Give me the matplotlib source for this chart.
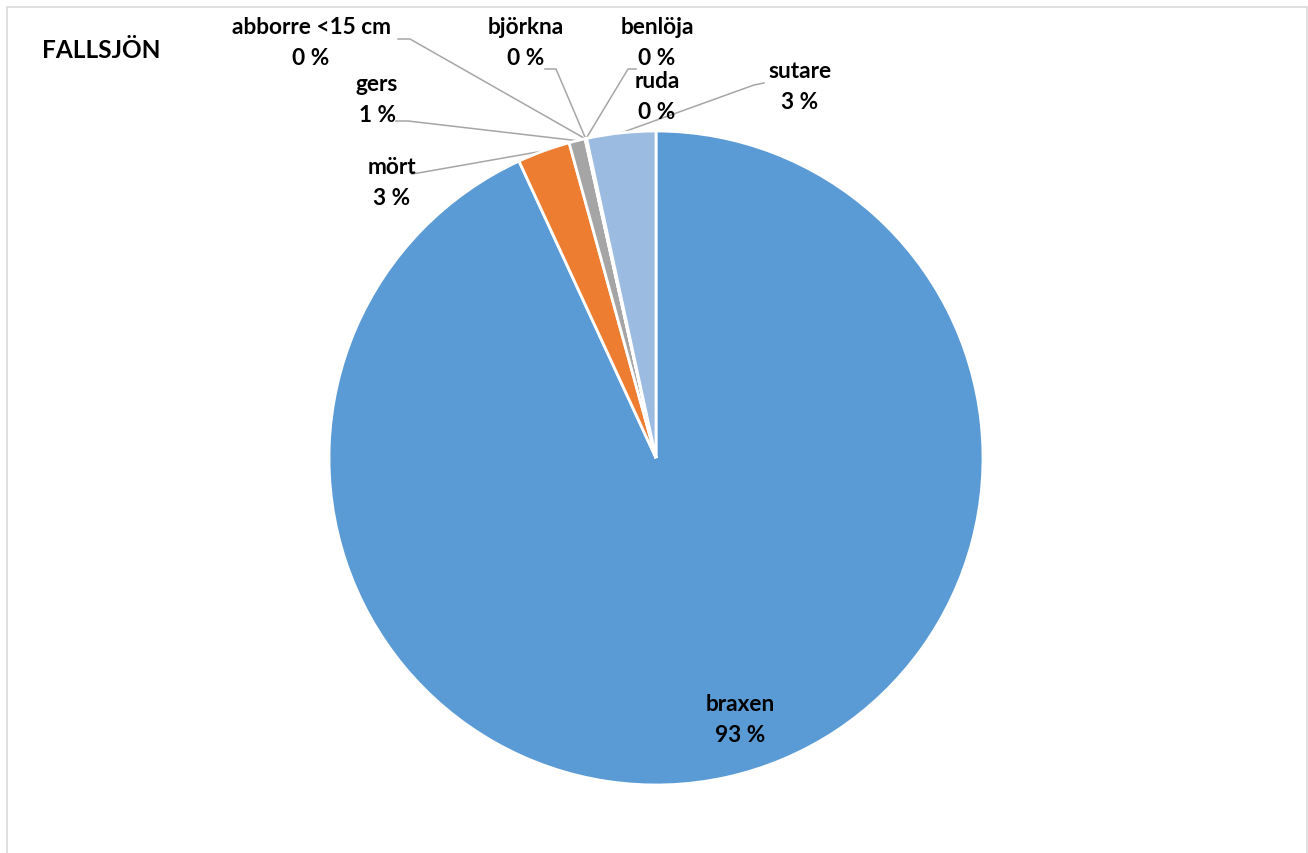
import numpy as np
import matplotlib.pyplot as plt
from matplotlib.patches import Rectangle

plt.rcParams['font.family'] = ['Lato', 'DejaVu Sans']

# fish catch share, Fallsjön (percent of total)
species = ['braxen', 'mört', 'gers', 'abborre <15 cm', 'björkna', 'benlöja', 'ruda', 'sutare']
share = [93.1, 2.6, 0.8, 0.02, 0.02, 0.02, 0.02, 3.4]
shown_pct = ['93 %', '3 %', '1 %', '0 %', '0 %', '0 %', '0 %', '3 %']
colors = ['#5B9BD5', '#ED7D31', '#A5A5A5', '#FFC000', '#4472C4', '#70AD47', '#264478', '#9BBBE1']

W, H = 1308, 854
fig = plt.figure(figsize=(W / 100, H / 100), dpi=100)
ax = fig.add_axes([0, 0, 1, 1])
ax.set_xlim(0, W)
ax.set_ylim(0, H)
ax.axis('off')

def py(y):
    return H - y

# chart area frame
ax.add_patch(Rectangle((7, -5), W - 8, py(8) + 5, fill=False, ec='#D9D9D9', lw=1.2))

cx, cy, r = 656, py(459), 327
wedges, _ = ax.pie(share, colors=colors, startangle=90, counterclock=False,
                   center=(cx, cy), radius=r,
                   wedgeprops=dict(edgecolor='white', linewidth=2))
ax.set_xlim(0, W)
ax.set_ylim(0, H)
ax.set_aspect('equal')

# label text position (pixels) and leader start/elbow
label_pos = {
    'braxen': (740, 720, None),
    'mört': (392, 183, [(412, 175), (424, 173)]),
    'gers': (377, 100, [(396, 122), (408, 122)]),
    'abborre <15 cm': (311, 43, [(398, 40), (410, 40)]),
    'björkna': (526, 43, [(545, 70), (556, 70)]),
    'benlöja': (657, 43, [(636, 70), (628, 70)]),
    'ruda': (657, 97, None),
    'sutare': (800, 87, [(764, 84), (754, 86)]),
}

for w, name, pct in zip(wedges, species, shown_pct):
    tx, ty, lead = label_pos[name]
    ax.text(tx, py(ty), f'{name}\n{pct}', ha='center', va='center',
            fontsize=16.3, fontweight='bold', color='#000000', linespacing=1.62)
    if lead:
        mid = np.deg2rad((w.theta1 + w.theta2) / 2)
        ex, ey = cx + r * np.cos(mid), cy + r * np.sin(mid)
        xs = [p[0] for p in lead] + [ex]
        ys = [py(p[1]) for p in lead] + [ey]
        ax.plot(xs, ys, color='#A6A6A6', lw=1.1, zorder=0.5)

ax.text(42, py(50), 'FALLSJÖN', ha='left', va='center', fontsize=17.6,
        fontweight='bold', color='#000000')

fig.savefig('out.png', dpi=100)
